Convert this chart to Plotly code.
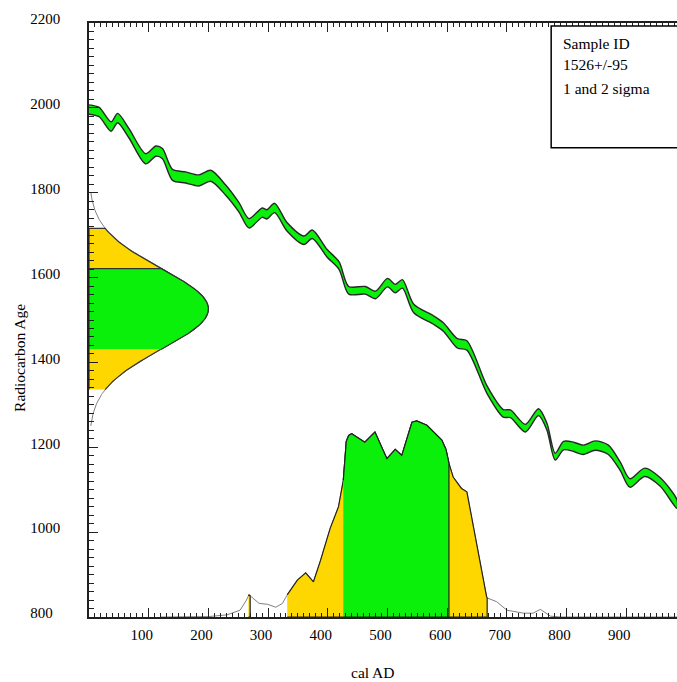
import numpy as np
import plotly.graph_objects as go

# ---------------- data ----------------
# calibration curve (cal AD, radiocarbon age centre, half-width)
curve_cal = [0, 17, 37, 48, 67, 95, 112, 123, 140, 162, 184, 204, 229, 251, 268, 290, 298, 311,
             332, 360, 374, 399, 419, 435, 463, 480, 500, 513, 525, 544, 577, 594, 617, 633,
             667, 694, 706, 731, 753, 767, 781, 795, 812, 828, 848, 870, 890, 906, 931, 957, 985]
curve_age = [1996, 1990, 1956, 1976, 1940, 1880, 1898, 1892, 1842, 1836, 1829, 1840, 1806, 1766,
             1728, 1753, 1749, 1764, 1719, 1688, 1702, 1657, 1628, 1570, 1570, 1559, 1588, 1574,
             1585, 1527, 1500, 1483, 1445, 1440, 1335, 1280, 1279, 1245, 1283, 1249, 1178, 1204,
             1201, 1194, 1204, 1194, 1155, 1116, 1141, 1118, 1066]
curve_err = [11, 11, 11, 11, 11, 12, 12, 12, 13, 13, 13, 13, 12, 11, 11, 11, 11, 11,
             10, 10, 10, 9, 9, 9, 9, 9, 10, 10, 10, 10, 10, 10, 11, 11,
             9, 9, 9, 9, 8, 8, 8, 10, 11, 11, 11, 11, 10, 10, 10, 10, 10]

# measurement
sample_mean = 1526
sample_sigma = 95
gauss_peak = 200  # peak width of the measurement curve in cal-AD units

# calibrated probability distribution (cal AD, plotted height on age axis)
dist_cal = [120, 200, 231, 253, 263, 267, 268, 270, 276, 285, 299, 313, 324, 332, 349, 363, 376,
            388, 404, 418, 426, 431, 435, 440, 462, 479, 499, 513, 524, 541, 549, 566, 591,
            598, 603, 610, 624, 633, 644, 658, 666, 667, 683, 700, 728, 744, 756, 773, 790, 985]
dist_h = [800, 801, 805, 816, 838, 850, 852, 850, 842, 832, 830, 823, 832, 852, 887, 904, 883,
          934, 1009, 1060, 1122, 1214, 1228, 1232, 1212, 1236, 1173, 1195, 1181, 1259, 1262, 1252, 1217,
          1195, 1162, 1130, 1103, 1095, 1012, 903, 848, 845, 836, 816, 809, 809, 818, 802, 800, 800]
two_sigma_ranges = [(267, 270), (332, 667)]
one_sigma_ranges = [(426, 603)]

x_ticks = [100, 200, 300, 400, 500, 600, 700, 800, 900]
y_ticks = [800, 1000, 1200, 1400, 1600, 1800, 2000, 2200]
legend_lines = ["Sample ID", "1526+/-95", "1 and 2 sigma"]

# ---------------- styles ----------------
GREEN = "#0AF00A"
YELLOW = "#FFD700"
DARK = "#202020"
GREY = "#808080"
FONT = "Liberation Serif"

fig = go.Figure()

# calibration curve band
up = [a + e for a, e in zip(curve_age, curve_err)]
lo = [a - e for a, e in zip(curve_age, curve_err)]
fig.add_trace(go.Scatter(
    x=curve_cal + curve_cal[::-1], y=up + lo[::-1], fill="toself", mode="lines",
    fillcolor=GREEN, line=dict(color="#282828", width=1.4, shape="spline", smoothing=0.8),
    hoverinfo="skip", showlegend=False))

# measurement gaussian on the age axis
def gauss(y):
    return gauss_peak * np.exp(-0.5 * ((y - sample_mean) / sample_sigma) ** 2)

def gauss_poly(k, color):
    ys = np.linspace(sample_mean - k * sample_sigma, sample_mean + k * sample_sigma, 120)
    xs = gauss(ys)
    fig.add_trace(go.Scatter(
        x=list(xs) + [0, 0], y=list(ys) + [ys[-1], ys[0]], fill="toself", mode="lines",
        fillcolor=color, line=dict(color="#333333", width=1.2), hoverinfo="skip", showlegend=False))

ys_full = np.linspace(sample_mean - 2.9 * sample_sigma, sample_mean + 2.9 * sample_sigma, 300)
fig.add_trace(go.Scatter(x=gauss(ys_full), y=ys_full, mode="lines",
                         line=dict(color=GREY, width=1), hoverinfo="skip", showlegend=False))
gauss_poly(2, YELLOW)
gauss_poly(1, GREEN)

# calibrated distribution
fig.add_trace(go.Scatter(x=dist_cal, y=dist_h, mode="lines",
                         line=dict(color=GREY, width=1), hoverinfo="skip", showlegend=False))

def dist_poly(a, b, color):
    xs = [x for x in dist_cal if a <= x <= b]
    ys = [h for x, h in zip(dist_cal, dist_h) if a <= x <= b]
    fig.add_trace(go.Scatter(
        x=xs + [b, a], y=ys + [800, 800], fill="toself", mode="lines",
        fillcolor=color, line=dict(color="#222222", width=1.2),
        hoverinfo="skip", showlegend=False))

for a, b in two_sigma_ranges:
    dist_poly(a, b, YELLOW)
for a, b in one_sigma_ranges:
    dist_poly(a, b, GREEN)

# ---------------- layout ----------------
axis_common = dict(showgrid=False, zeroline=False, showline=True, linecolor=DARK, linewidth=1.5,
                   ticks="inside", tickcolor=DARK, tickwidth=1.2,
                   tickfont=dict(family=FONT, size=15, color="black"))

fig.update_layout(
    width=677, height=682,
    margin=dict(l=89, r=0, t=23, b=65),
    plot_bgcolor="white", paper_bgcolor="white",
    xaxis=dict(range=[0, 985], tickvals=x_ticks, ticktext=[str(v) for v in x_ticks],
               ticklen=9, mirror="ticks", ticklabelstandoff=3, ticklabelshift=-7,
               minor=dict(dtick=10, tick0=0, ticks="inside", ticklen=4, tickcolor=DARK, tickwidth=1),
               **axis_common),
    yaxis=dict(range=[800, 2200], tickvals=y_ticks,
               ticktext=[(str(v) + "\u00a0\u00a0") if v < 1000 else str(v) for v in y_ticks],
               ticklen=9, mirror=False, ticklabelstandoff=24, ticklabelshift=-4,
               minor=dict(dtick=20, tick0=800, ticks="inside", ticklen=5, tickcolor=DARK, tickwidth=1),
               **axis_common),
    font=dict(family=FONT, size=15, color="black"),
)

# legend box
fig.add_shape(type="rect", xref="paper", yref="paper", x0=0.786, x1=1.05, y0=0.790, y1=0.995,
              line=dict(color="black", width=1.5), fillcolor="white", layer="above")
for txt, yy in zip(legend_lines, [0.9663, 0.9293, 0.8889]):
    fig.add_annotation(text=txt, xref="paper", yref="paper", x=0.8028, y=yy, xanchor="left",
                       yanchor="middle", showarrow=False, font=dict(family=FONT, size=15.5, color="black"))

# axis titles
fig.add_annotation(text="cal AD", xref="paper", yref="paper", x=0.4814, y=-0.0937,
                   xanchor="center", yanchor="middle", showarrow=False,
                   font=dict(family=FONT, size=15.5, color="black"))
fig.add_annotation(text="Radiocarbon Age", xref="paper", yref="paper", x=-0.1172, y=0.4363,
                   xanchor="center", yanchor="middle", textangle=-90, showarrow=False,
                   font=dict(family=FONT, size=15.5, color="black"))

fig.write_html("out.html", config={"displayModeBar": False},
               post_script="document.body.style.margin='0';document.body.style.padding='0';"
                           "document.body.style.overflow='hidden';")
